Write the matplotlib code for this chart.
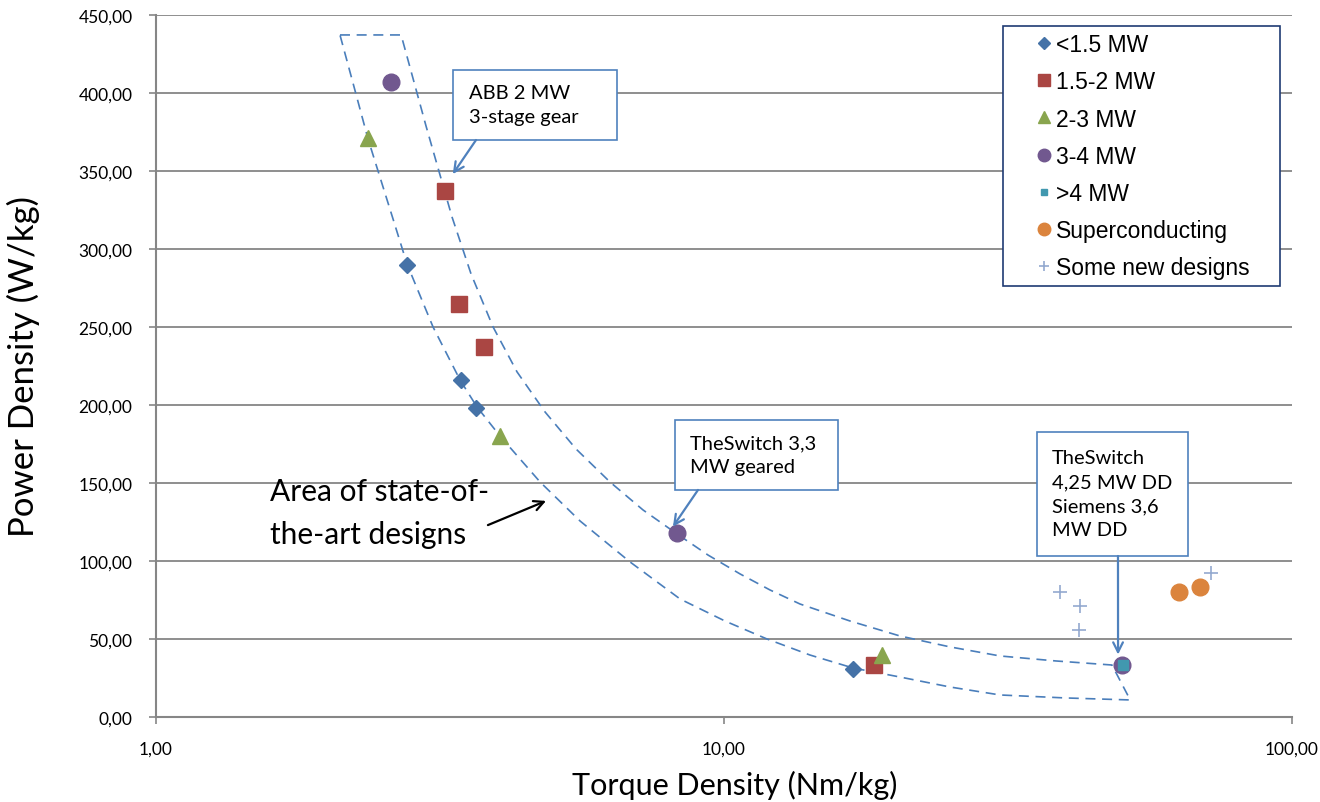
import numpy as np
import matplotlib
matplotlib.use("Agg")
import matplotlib.pyplot as plt
from matplotlib.patches import Rectangle
from matplotlib.ticker import FuncFormatter, FixedLocator, NullLocator

plt.rcParams['font.family'] = ['Lato', 'DejaVu Sans']

# ---- data (torque density Nm/kg, power density W/kg) ----
lt15_x = [2.77, 3.44, 3.66, 16.9]
lt15_y = [290, 216, 198, 31]
mw15_2_x = [3.23, 3.42, 3.78, 18.4]
mw15_2_y = [337, 265, 237, 33]
mw2_3_x = [2.36, 4.03, 19.0]
mw2_3_y = [371, 180, 40]
mw3_4_x = [2.59, 8.27, 50.2]
mw3_4_y = [407, 118, 33]
gt4_x = [50.4]
gt4_y = [33]
sc_x = [63.2, 68.9]
sc_y = [80, 83]
new_x = [39.0, 42.4, 42.2, 72.0]
new_y = [80, 71, 56, 92]

# outline of the "state-of-the-art" area (upper edge, then lower edge back)
upper_x = [2.108, 2.701, 2.988, 3.32, 3.586, 3.921, 4.321, 4.841, 5.488, 6.30, 7.201, 8.267,
           9.372, 10.67, 12.05, 13.61, 16.67, 20.41, 25.0, 30.62, 38.4, 48.2, 51.9]
upper_y = [437.2, 437.2, 378.8, 320.5, 284.0, 250.0, 221.2, 195.5, 171.8, 150.6, 132.7, 117.3,
           103.8, 91.7, 81.4, 72.4, 61.5, 51.9, 44.9, 39.1, 35.9, 33.3, 10.9]
lower_x = [39.85, 30.62, 25.0, 20.41, 16.87, 14.17, 11.90, 10.04, 8.37, 6.83, 5.58, 4.745,
           4.033, 3.674, 3.43, 3.074, 2.766, 2.614, 2.362, 2.232, 2.108]
lower_y = [12.2, 14.1, 19.2, 25.6, 31.4, 39.7, 50.0, 61.5, 75.6, 99.4, 125.6, 150.6,
           180.1, 198.7, 216, 250, 290.4, 319.2, 370.5, 403.8, 437.2]

x_ticks = [1, 10, 100]
y_ticks = list(range(0, 451, 50))

fig = plt.figure(figsize=(13.2, 8.03), dpi=100)
ax = fig.add_axes([0.1182, 0.1059, 0.8606, 0.8742])

ax.plot(upper_x + lower_x, upper_y + lower_y, color='#4A7EBB', lw=1.2, ls=(0, (6, 4)), zorder=2)

ax.plot(lt15_x, lt15_y, ls='none', marker='D', ms=8, color='#4572A7', label='<1.5 MW', zorder=3)
ax.plot(mw15_2_x, mw15_2_y, ls='none', marker='s', ms=11, color='#AA4643', label='1.5-2 MW', zorder=3)
ax.plot(mw2_3_x, mw2_3_y, ls='none', marker='^', ms=11.5, color='#89A54E', label='2-3 MW', zorder=3)
ax.plot(mw3_4_x, mw3_4_y, ls='none', marker='o', ms=12, color='#71588F', label='3-4 MW', zorder=3)
ax.plot(gt4_x, gt4_y, ls='none', marker='s', ms=6.5, color='#4198AF', label='>4 MW', zorder=4)
ax.plot(sc_x, sc_y, ls='none', marker='o', ms=12, color='#DB843D', label='Superconducting', zorder=3)
ax.plot(new_x, new_y, ls='none', marker='+', ms=10, mew=1.2, color='#93A9CF', label='Some new designs', zorder=3)

ax.set_xscale('log')
ax.set_xlim(1, 100)
ax.set_ylim(0, 450)
ax.xaxis.set_major_locator(FixedLocator(x_ticks))
ax.xaxis.set_minor_locator(NullLocator())
ax.set_yticks(y_ticks)
comma = FuncFormatter(lambda v, p: ('%.2f' % v).replace('.', ','))
ax.xaxis.set_major_formatter(comma)
ax.yaxis.set_major_formatter(comma)
ax.tick_params(labelsize=12.5, colors='#868686', labelcolor='black', length=5, width=1.2)
ax.tick_params(axis='y', pad=12)
ax.tick_params(axis='x', pad=12)

ax.grid(axis='y', color='#868686', lw=1.3)
ax.set_axisbelow(True)
for s in ['top', 'right']:
    ax.spines[s].set_visible(False)
for s in ['left', 'bottom']:
    ax.spines[s].set_color('#868686')
    ax.spines[s].set_linewidth(1.5)

ax.set_xlabel('Torque Density (Nm/kg)', fontsize=22)
ax.set_ylabel('Power Density (W/kg)', fontsize=25)
ax.xaxis.set_label_coords(0.5097, -0.076)
ax.yaxis.set_label_coords(-0.102, 0.5)

# callout boxes: (x0, y0, w, h) in axes fraction, text left, arrow start, arrow target
callouts = [
    ('ABB 2 MW\n3-stage gear', (0.2614, 0.8219, 0.1444, 0.0998), 0.2755, (0.2817, 0.8219), (3.33, 348)),
    ('TheSwitch 3,3\nMW geared', (0.4569, 0.3234, 0.1435, 0.0997), 0.4701, (0.4771, 0.3234), (8.13, 122)),
    ('TheSwitch\n4,25 MW DD\nSiemens 3,6\nMW DD', (0.7755, 0.2293, 0.1330, 0.1767), 0.7887,
     (0.8468, 0.2293), (49.4, 40)),
]
for txt, (x0, y0, w, h), tx, start, target in callouts:
    ax.add_patch(Rectangle((x0, y0), w, h, transform=ax.transAxes, fc='white',
                           ec='#4F81BD', lw=1.2, zorder=5))
    ax.text(tx, y0 + h / 2, txt, transform=ax.transAxes, ha='left', va='center',
            fontsize=14.5, linespacing=1.5, zorder=6)
    ax.annotate('', xy=target, xycoords='data', xytext=start, textcoords='axes fraction',
                arrowprops=dict(arrowstyle='->,head_length=0.7,head_width=0.35', color='#4F81BD',
                                lw=1.6, shrinkA=0, shrinkB=0), zorder=6)

ax.text(1.587, 131, 'Area of state-of-\nthe-art designs', fontsize=21.5, ha='left',
        va='center', linespacing=1.62)
ax.annotate('', xy=(4.86, 138.5), xytext=(3.84, 123),
            arrowprops=dict(arrowstyle='->,head_length=0.7,head_width=0.35', color='black',
                            lw=1.6, shrinkA=0, shrinkB=0))

leg = ax.legend(loc='upper left', bbox_to_anchor=(0.7456, 0.6197, 0.2438, 0.3643), mode='expand',
                frameon=True, fancybox=False, edgecolor='#1F3B73',
                prop={'family': 'Liberation Sans', 'size': 16.5},
                labelspacing=0.62, handlelength=2.95, handletextpad=-0.95, borderpad=0.3,
                markerscale=0.75, borderaxespad=0)
leg.get_frame().set_linewidth(1.2)
leg.get_frame().set_alpha(1)

fig.savefig('out.png', dpi=100)
